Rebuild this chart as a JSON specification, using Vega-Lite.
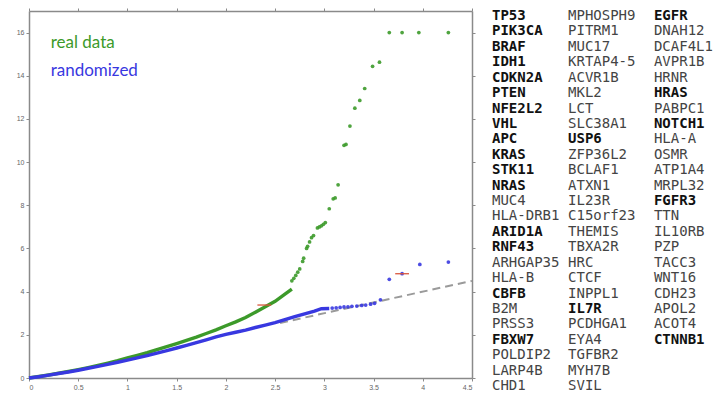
{
  "$schema": "https://vega.github.io/schema/vega-lite/v6.json",
  "autosize": {"type": "pad"},
  "padding": {"left": 16, "top": 7, "right": 0, "bottom": 0},
  "spacing": 16,
  "config": {
    "view": {"stroke": null},
    "axis": {
      "grid": false,
      "labelFontSize": 7,
      "labelColor": "#666666",
      "labelFont": "Liberation Sans",
      "tickColor": "#8a8a8a",
      "domainColor": "#8a8a8a",
      "domainWidth": 1.5,
      "tickSize": 3,
      "labelPadding": 2,
      "title": null
    }
  },
  "datasets": {
    "curves": [
      {"s": "real", "x": 0, "y": 0}, {"s": "real", "x": 0.1, "y": 0.07}, {"s": "real", "x": 0.2, "y": 0.14}, {"s": "real", "x": 0.3, "y": 0.22}, {"s": "real", "x": 0.4, "y": 0.3}, {"s": "real", "x": 0.5, "y": 0.39}, {"s": "real", "x": 0.6, "y": 0.48}, {"s": "real", "x": 0.7, "y": 0.58}, {"s": "real", "x": 0.8, "y": 0.69}, {"s": "real", "x": 0.9, "y": 0.8}, {"s": "real", "x": 1.0, "y": 0.93}, {"s": "real", "x": 1.1, "y": 1.05}, {"s": "real", "x": 1.2, "y": 1.17}, {"s": "real", "x": 1.3, "y": 1.31}, {"s": "real", "x": 1.4, "y": 1.45}, {"s": "real", "x": 1.5, "y": 1.59}, {"s": "real", "x": 1.6, "y": 1.74}, {"s": "real", "x": 1.7, "y": 1.89}, {"s": "real", "x": 1.8, "y": 2.06}, {"s": "real", "x": 1.9, "y": 2.23}, {"s": "real", "x": 2.0, "y": 2.42}, {"s": "real", "x": 2.1, "y": 2.6}, {"s": "real", "x": 2.2, "y": 2.8}, {"s": "real", "x": 2.3, "y": 3.05}, {"s": "real", "x": 2.4, "y": 3.3}, {"s": "real", "x": 2.5, "y": 3.55}, {"s": "real", "x": 2.6, "y": 3.88}, {"s": "real", "x": 2.67, "y": 4.12},
      {"s": "rand", "x": 0, "y": 0}, {"s": "rand", "x": 0.1, "y": 0.06}, {"s": "rand", "x": 0.2, "y": 0.13}, {"s": "rand", "x": 0.3, "y": 0.21}, {"s": "rand", "x": 0.4, "y": 0.28}, {"s": "rand", "x": 0.5, "y": 0.36}, {"s": "rand", "x": 0.6, "y": 0.45}, {"s": "rand", "x": 0.7, "y": 0.54}, {"s": "rand", "x": 0.8, "y": 0.63}, {"s": "rand", "x": 0.9, "y": 0.73}, {"s": "rand", "x": 1.0, "y": 0.83}, {"s": "rand", "x": 1.1, "y": 0.93}, {"s": "rand", "x": 1.2, "y": 1.04}, {"s": "rand", "x": 1.3, "y": 1.15}, {"s": "rand", "x": 1.4, "y": 1.27}, {"s": "rand", "x": 1.5, "y": 1.39}, {"s": "rand", "x": 1.6, "y": 1.51}, {"s": "rand", "x": 1.7, "y": 1.64}, {"s": "rand", "x": 1.8, "y": 1.77}, {"s": "rand", "x": 1.9, "y": 1.9}, {"s": "rand", "x": 2.0, "y": 2.02}, {"s": "rand", "x": 2.1, "y": 2.12}, {"s": "rand", "x": 2.2, "y": 2.22}, {"s": "rand", "x": 2.3, "y": 2.34}, {"s": "rand", "x": 2.4, "y": 2.45}, {"s": "rand", "x": 2.5, "y": 2.56}, {"s": "rand", "x": 2.6, "y": 2.7}, {"s": "rand", "x": 2.7, "y": 2.84}, {"s": "rand", "x": 2.8, "y": 2.97}, {"s": "rand", "x": 2.9, "y": 3.1}, {"s": "rand", "x": 2.97, "y": 3.21}, {"s": "rand", "x": 3.05, "y": 3.22}
    ],
    "tails": [
      {"s": "real", "x": 2.67, "y": 4.5}, {"s": "real", "x": 2.69, "y": 4.62}, {"s": "real", "x": 2.71, "y": 4.75}, {"s": "real", "x": 2.73, "y": 4.9}, {"s": "real", "x": 2.75, "y": 5.05}, {"s": "real", "x": 2.78, "y": 5.4}, {"s": "real", "x": 2.79, "y": 5.55}, {"s": "real", "x": 2.82, "y": 6.0}, {"s": "real", "x": 2.83, "y": 6.1}, {"s": "real", "x": 2.85, "y": 6.3}, {"s": "real", "x": 2.87, "y": 6.5}, {"s": "real", "x": 2.89, "y": 6.6}, {"s": "real", "x": 2.93, "y": 6.95}, {"s": "real", "x": 2.95, "y": 7.0}, {"s": "real", "x": 2.97, "y": 7.05}, {"s": "real", "x": 2.99, "y": 7.12}, {"s": "real", "x": 3.01, "y": 7.2}, {"s": "real", "x": 3.05, "y": 7.84}, {"s": "real", "x": 3.09, "y": 8.3}, {"s": "real", "x": 3.11, "y": 8.34}, {"s": "real", "x": 3.14, "y": 8.95}, {"s": "real", "x": 3.2, "y": 10.78}, {"s": "real", "x": 3.22, "y": 10.82}, {"s": "real", "x": 3.26, "y": 11.67}, {"s": "real", "x": 3.31, "y": 12.5}, {"s": "real", "x": 3.36, "y": 12.86}, {"s": "real", "x": 3.41, "y": 13.41}, {"s": "real", "x": 3.49, "y": 14.44}, {"s": "real", "x": 3.56, "y": 14.63}, {"s": "real", "x": 3.66, "y": 16}, {"s": "real", "x": 3.79, "y": 16}, {"s": "real", "x": 3.96, "y": 16}, {"s": "real", "x": 4.26, "y": 16},
      {"s": "rand", "x": 3.08, "y": 3.24}, {"s": "rand", "x": 3.12, "y": 3.25}, {"s": "rand", "x": 3.16, "y": 3.27}, {"s": "rand", "x": 3.2, "y": 3.29}, {"s": "rand", "x": 3.24, "y": 3.3}, {"s": "rand", "x": 3.28, "y": 3.32}, {"s": "rand", "x": 3.33, "y": 3.33}, {"s": "rand", "x": 3.38, "y": 3.36}, {"s": "rand", "x": 3.42, "y": 3.38}, {"s": "rand", "x": 3.47, "y": 3.42}, {"s": "rand", "x": 3.51, "y": 3.46}, {"s": "rand", "x": 3.57, "y": 3.62}, {"s": "rand", "x": 3.66, "y": 4.57}, {"s": "rand", "x": 3.79, "y": 4.83}, {"s": "rand", "x": 3.97, "y": 5.26}, {"s": "rand", "x": 4.26, "y": 5.37}
    ],
    "diag": [{"x": 2.55, "y": 2.55}, {"x": 4.5, "y": 4.5}],
    "errs": [{"x": 2.32, "x2": 2.46, "y": 3.38}, {"x": 3.72, "x2": 3.86, "y": 4.83}],
    "labels": [
      {"s": "real", "label": "real data", "x": 0.22, "y": 15.5},
      {"s": "rand", "label": "randomized", "x": 0.22, "y": 14.2}
    ],
    "genes": [
      {"c": 0, "r": 1, "g": "TP53", "b": true}, {"c": 0, "r": 2, "g": "PIK3CA", "b": true}, {"c": 0, "r": 3, "g": "BRAF", "b": true}, {"c": 0, "r": 4, "g": "IDH1", "b": true}, {"c": 0, "r": 5, "g": "CDKN2A", "b": true}, {"c": 0, "r": 6, "g": "PTEN", "b": true}, {"c": 0, "r": 7, "g": "NFE2L2", "b": true}, {"c": 0, "r": 8, "g": "VHL", "b": true}, {"c": 0, "r": 9, "g": "APC", "b": true}, {"c": 0, "r": 10, "g": "KRAS", "b": true}, {"c": 0, "r": 11, "g": "STK11", "b": true}, {"c": 0, "r": 12, "g": "NRAS", "b": true}, {"c": 0, "r": 13, "g": "MUC4", "b": false}, {"c": 0, "r": 14, "g": "HLA-DRB1", "b": false}, {"c": 0, "r": 15, "g": "ARID1A", "b": true}, {"c": 0, "r": 16, "g": "RNF43", "b": true}, {"c": 0, "r": 17, "g": "ARHGAP35", "b": false}, {"c": 0, "r": 18, "g": "HLA-B", "b": false}, {"c": 0, "r": 19, "g": "CBFB", "b": true}, {"c": 0, "r": 20, "g": "B2M", "b": false}, {"c": 0, "r": 21, "g": "PRSS3", "b": false}, {"c": 0, "r": 22, "g": "FBXW7", "b": true}, {"c": 0, "r": 23, "g": "POLDIP2", "b": false}, {"c": 0, "r": 24, "g": "LARP4B", "b": false}, {"c": 0, "r": 25, "g": "CHD1", "b": false},
      {"c": 0.864, "r": 1, "g": "MPHOSPH9", "b": false}, {"c": 0.864, "r": 2, "g": "PITRM1", "b": false}, {"c": 0.864, "r": 3, "g": "MUC17", "b": false}, {"c": 0.864, "r": 4, "g": "KRTAP4-5", "b": false}, {"c": 0.864, "r": 5, "g": "ACVR1B", "b": false}, {"c": 0.864, "r": 6, "g": "MKL2", "b": false}, {"c": 0.864, "r": 7, "g": "LCT", "b": false}, {"c": 0.864, "r": 8, "g": "SLC38A1", "b": false}, {"c": 0.864, "r": 9, "g": "USP6", "b": true}, {"c": 0.864, "r": 10, "g": "ZFP36L2", "b": false}, {"c": 0.864, "r": 11, "g": "BCLAF1", "b": false}, {"c": 0.864, "r": 12, "g": "ATXN1", "b": false}, {"c": 0.864, "r": 13, "g": "IL23R", "b": false}, {"c": 0.864, "r": 14, "g": "C15orf23", "b": false}, {"c": 0.864, "r": 15, "g": "THEMIS", "b": false}, {"c": 0.864, "r": 16, "g": "TBXA2R", "b": false}, {"c": 0.864, "r": 17, "g": "HRC", "b": false}, {"c": 0.864, "r": 18, "g": "CTCF", "b": false}, {"c": 0.864, "r": 19, "g": "INPPL1", "b": false}, {"c": 0.864, "r": 20, "g": "IL7R", "b": true}, {"c": 0.864, "r": 21, "g": "PCDHGA1", "b": false}, {"c": 0.864, "r": 22, "g": "EYA4", "b": false}, {"c": 0.864, "r": 23, "g": "TGFBR2", "b": false}, {"c": 0.864, "r": 24, "g": "MYH7B", "b": false}, {"c": 0.864, "r": 25, "g": "SVIL", "b": false},
      {"c": 1.84, "r": 1, "g": "EGFR", "b": true}, {"c": 1.84, "r": 2, "g": "DNAH12", "b": false}, {"c": 1.84, "r": 3, "g": "DCAF4L1", "b": false}, {"c": 1.84, "r": 4, "g": "AVPR1B", "b": false}, {"c": 1.84, "r": 5, "g": "HRNR", "b": false}, {"c": 1.84, "r": 6, "g": "HRAS", "b": true}, {"c": 1.84, "r": 7, "g": "PABPC1", "b": false}, {"c": 1.84, "r": 8, "g": "NOTCH1", "b": true}, {"c": 1.84, "r": 9, "g": "HLA-A", "b": false}, {"c": 1.84, "r": 10, "g": "OSMR", "b": false}, {"c": 1.84, "r": 11, "g": "ATP1A4", "b": false}, {"c": 1.84, "r": 12, "g": "MRPL32", "b": false}, {"c": 1.84, "r": 13, "g": "FGFR3", "b": true}, {"c": 1.84, "r": 14, "g": "TTN", "b": false}, {"c": 1.84, "r": 15, "g": "IL10RB", "b": false}, {"c": 1.84, "r": 16, "g": "PZP", "b": false}, {"c": 1.84, "r": 17, "g": "TACC3", "b": false}, {"c": 1.84, "r": 18, "g": "WNT16", "b": false}, {"c": 1.84, "r": 19, "g": "CDH23", "b": false}, {"c": 1.84, "r": 20, "g": "APOL2", "b": false}, {"c": 1.84, "r": 21, "g": "ACOT4", "b": false}, {"c": 1.84, "r": 22, "g": "CTNNB1", "b": true}
    ]
  },
  "hconcat": [
    {
      "width": 443,
      "height": 367,
      "resolve": {"axis": {"x": "independent", "y": "independent"}},
      "layer": [
        {
          "data": {"name": "diag"},
          "mark": {"type": "line", "color": "#9a9a9a", "strokeWidth": 2, "strokeDash": [8, 5]},
          "encoding": {
            "x": {"field": "x", "type": "quantitative", "scale": {"domain": [0, 4.5], "nice": false}, "axis": {"orient": "bottom", "values": [0, 0.5, 1, 1.5, 2, 2.5, 3, 3.5, 4, 4.5], "format": "~g", "tickSize": 3}},
            "y": {"field": "y", "type": "quantitative", "scale": {"domain": [0, 17], "nice": false}, "axis": {"orient": "left", "values": [0, 2, 4, 6, 8, 10, 12, 14, 16], "format": "~g"}}
          }
        },
        {
          "data": {"name": "curves"},
          "mark": {"type": "line", "strokeWidth": 3.4},
          "encoding": {
            "x": {"field": "x", "type": "quantitative", "axis": {"orient": "top", "labels": false, "values": [0, 0.5, 1, 1.5, 2, 2.5, 3, 3.5, 4, 4.5]}},
            "y": {"field": "y", "type": "quantitative", "axis": {"orient": "right", "labels": false, "values": [0, 2, 4, 6, 8, 10, 12, 14, 16]}},
            "detail": {"field": "s"},
            "color": {"field": "s", "type": "nominal", "scale": {"domain": ["real", "rand"], "range": ["#3c9a2a", "#3838e0"]}, "legend": null}
          }
        },
        {
          "data": {"name": "tails"},
          "mark": {"type": "circle", "size": 14, "opacity": 0.9},
          "encoding": {
            "x": {"field": "x", "type": "quantitative", "axis": null},
            "y": {"field": "y", "type": "quantitative", "axis": null},
            "color": {"field": "s", "type": "nominal", "legend": null}
          }
        },
        {
          "data": {"name": "errs"},
          "mark": {"type": "rule", "color": "#d9573c", "strokeWidth": 1.3},
          "encoding": {
            "x": {"field": "x", "type": "quantitative", "axis": null},
            "x2": {"field": "x2"},
            "y": {"field": "y", "type": "quantitative", "axis": null}
          }
        },
        {
          "data": {"name": "labels"},
          "mark": {"type": "text", "align": "left", "baseline": "middle", "font": "Lato", "fontSize": 17},
          "encoding": {
            "x": {"field": "x", "type": "quantitative", "axis": null},
            "y": {"field": "y", "type": "quantitative", "axis": null},
            "text": {"field": "label"},
            "color": {"field": "s", "type": "nominal", "legend": null}
          }
        }
      ]
    },
    {
      "width": 220,
      "height": 367,
      "data": {"name": "genes"},
      "layer": [
        {
          "transform": [{"filter": "datum.b"}],
          "mark": {"type": "text", "align": "left", "baseline": "middle", "font": "DejaVu Sans Mono", "fontSize": 14, "fontWeight": "bold", "color": "#111111"},
          "encoding": {
            "x": {"field": "c", "type": "quantitative", "scale": {"domain": [0, 2.5], "nice": false}, "axis": null},
            "y": {"field": "r", "type": "quantitative", "scale": {"domain": [0.6757, 24.481], "reverse": true, "nice": false, "zero": false}, "axis": null},
            "text": {"field": "g"}
          }
        },
        {
          "transform": [{"filter": "!datum.b"}],
          "mark": {"type": "text", "align": "left", "baseline": "middle", "font": "DejaVu Sans Mono", "fontSize": 14, "color": "#444444"},
          "encoding": {
            "x": {"field": "c", "type": "quantitative", "axis": null},
            "y": {"field": "r", "type": "quantitative", "axis": null},
            "text": {"field": "g"}
          }
        }
      ]
    }
  ]
}
